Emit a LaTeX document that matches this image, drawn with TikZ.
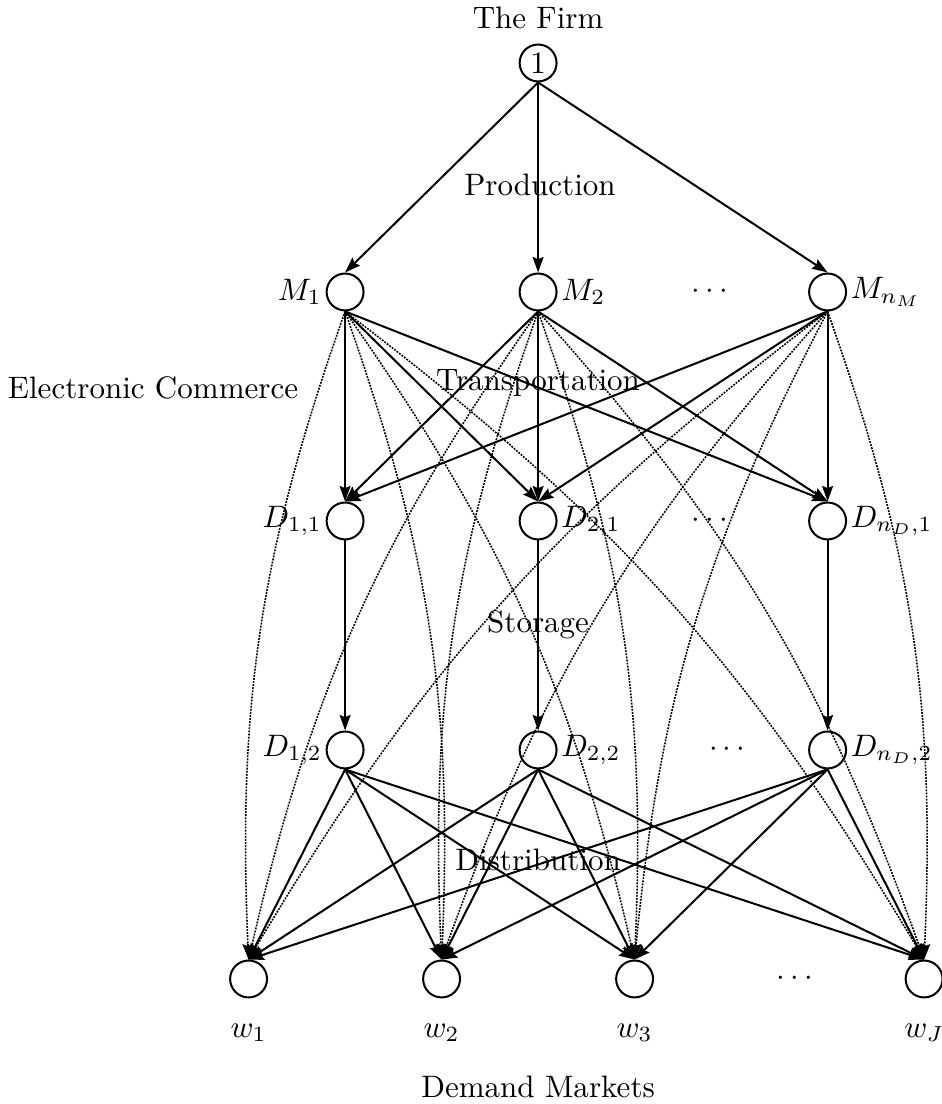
\documentclass[tikz,border=0pt]{standalone}
\usetikzlibrary{arrows.meta}

\begin{document}
\begin{tikzpicture}[
  x=62.2pt, y=73.8pt,
  >={Stealth[length=5pt,width=3.5pt,inset=0.7pt]},
  state/.style={draw, line width=0.65pt, circle,
                minimum size=11.9pt, inner sep=0pt},
  flow/.style={->, line width=0.65pt},
  ecom/.style={->, line width=0.5pt, dash pattern=on 0.6pt off 0.4pt},
  lab/.style={inner sep=0pt},
  lft/.style={label={[inner sep=1pt]left:#1}},
  rgt/.style={label={[inner sep=1pt]right:#1}},
  bel/.style={label={[inner sep=0pt, label distance=8pt]below:#1}},
]
\useasboundingbox (-1.788,0.275) rectangle (3.088,-4.546);

% the firm and its plants
\node[state] (firm) at (1,0) {1};
\node[lab] (firmlab) at (1,0.197) {The Firm};

\node[state, lft={$M_1$}] (M1) at (0,-1) {};
\node[state, rgt={$M_2$}] (M2) at (1,-1) {};
\node[state, rgt={$M_{n_M}$}] (Mn) at (2.5,-1) {};
\node[lab] (mdots) at (1.89,-1) {$\cdots$};

% distribution centers, in and out
\node[state, lft={$D_{1,1}$}] (D11) at (0,-2) {};
\node[state, rgt={$D_{2,1}$}] (D21) at (1,-2) {};
\node[state, rgt={$D_{n_D,1}$}] (Dn1) at (2.5,-2) {};
\node[lab] (d1dots) at (1.89,-2) {$\cdots$};

\node[state, lft={$D_{1,2}$}] (D12) at (0,-3) {};
\node[state, rgt={$D_{2,2}$}] (D22) at (1,-3) {};
\node[state, rgt={$D_{n_D,2}$}] (Dn2) at (2.5,-3) {};
\node[lab] (d2dots) at (1.98,-3) {$\cdots$};

% demand markets
\node[state, bel={$w_1$}] (w1) at (-0.5,-4) {};
\node[state, bel={$w_2$}] (w2) at (0.5,-4) {};
\node[state, bel={$w_3$}] (w3) at (1.5,-4) {};
\node[state, bel={$w_J$}] (wJ) at (3,-4) {};
\node[lab] (wdots) at (2.33,-4) {$\cdots$};

\node[lab] (prod) at (1.01,-0.533) {Production};
\node[lab] (trans) at (1,-1.397) {Transportation};
\node[lab] (ecomm) at (-0.995,-1.419) {Electronic Commerce};
\node[lab] (stor) at (1,-2.454) {Storage};
\node[lab] (dist) at (1,-3.48) {Distribution};
\node[lab] (dem) at (1,-4.47) {Demand Markets};

% production links
\draw[flow] (firm.south) -- (M1.north);
\draw[flow] (firm.south) -- (M2.north);
\draw[flow] (firm.south) -- (Mn.north);

% transportation links
\draw[flow] (M1.south) -- (D11.north);
\draw[flow] (M1.south) -- (D21.north);
\draw[flow] (M1.south) -- (Dn1.north);
\draw[flow] (M2.south) -- (D11.north);
\draw[flow] (M2.south) -- (D21.north);
\draw[flow] (M2.south) -- (Dn1.north);
\draw[flow] (Mn.south) -- (D11.north);
\draw[flow] (Mn.south) -- (D21.north);
\draw[flow] (Mn.south) -- (Dn1.north);

% storage links
\draw[flow] (D11.south) -- (D12.north);
\draw[flow] (D21.south) -- (D22.north);
\draw[flow] (Dn1.south) -- (Dn2.north);

% distribution links
\draw[flow] (D12.south) -- (w1.north);
\draw[flow] (D12.south) -- (w2.north);
\draw[flow] (D12.south) -- (w3.north);
\draw[flow] (D12.south) -- (wJ.north);
\draw[flow] (D22.south) -- (w1.north);
\draw[flow] (D22.south) -- (w2.north);
\draw[flow] (D22.south) -- (w3.north);
\draw[flow] (D22.south) -- (wJ.north);
\draw[flow] (Dn2.south) -- (w1.north);
\draw[flow] (Dn2.south) -- (w2.north);
\draw[flow] (Dn2.south) -- (w3.north);
\draw[flow] (Dn2.south) -- (wJ.north);

% electronic commerce links
\draw[ecom] (M1.south) to[bend right=11] (w1.north);
\draw[ecom] (M1.south) to[bend left=11] (w2.north);
\draw[ecom] (M1.south) to[bend left=11] (w3.north);
\draw[ecom] (M1.south) to[bend left=11] (wJ.north);
\draw[ecom] (M2.south) to[bend right=11] (w1.north);
\draw[ecom] (M2.south) to[bend right=11] (w2.north);
\draw[ecom] (M2.south) to[bend left=11] (w3.north);
\draw[ecom] (M2.south) to[bend left=11] (wJ.north);
\draw[ecom] (Mn.south) to[bend right=11] (w1.north);
\draw[ecom] (Mn.south) to[bend right=11] (w2.north);
\draw[ecom] (Mn.south) to[bend right=11] (w3.north);
\draw[ecom] (Mn.south) to[bend left=11] (wJ.north);
\end{tikzpicture}
\end{document}
